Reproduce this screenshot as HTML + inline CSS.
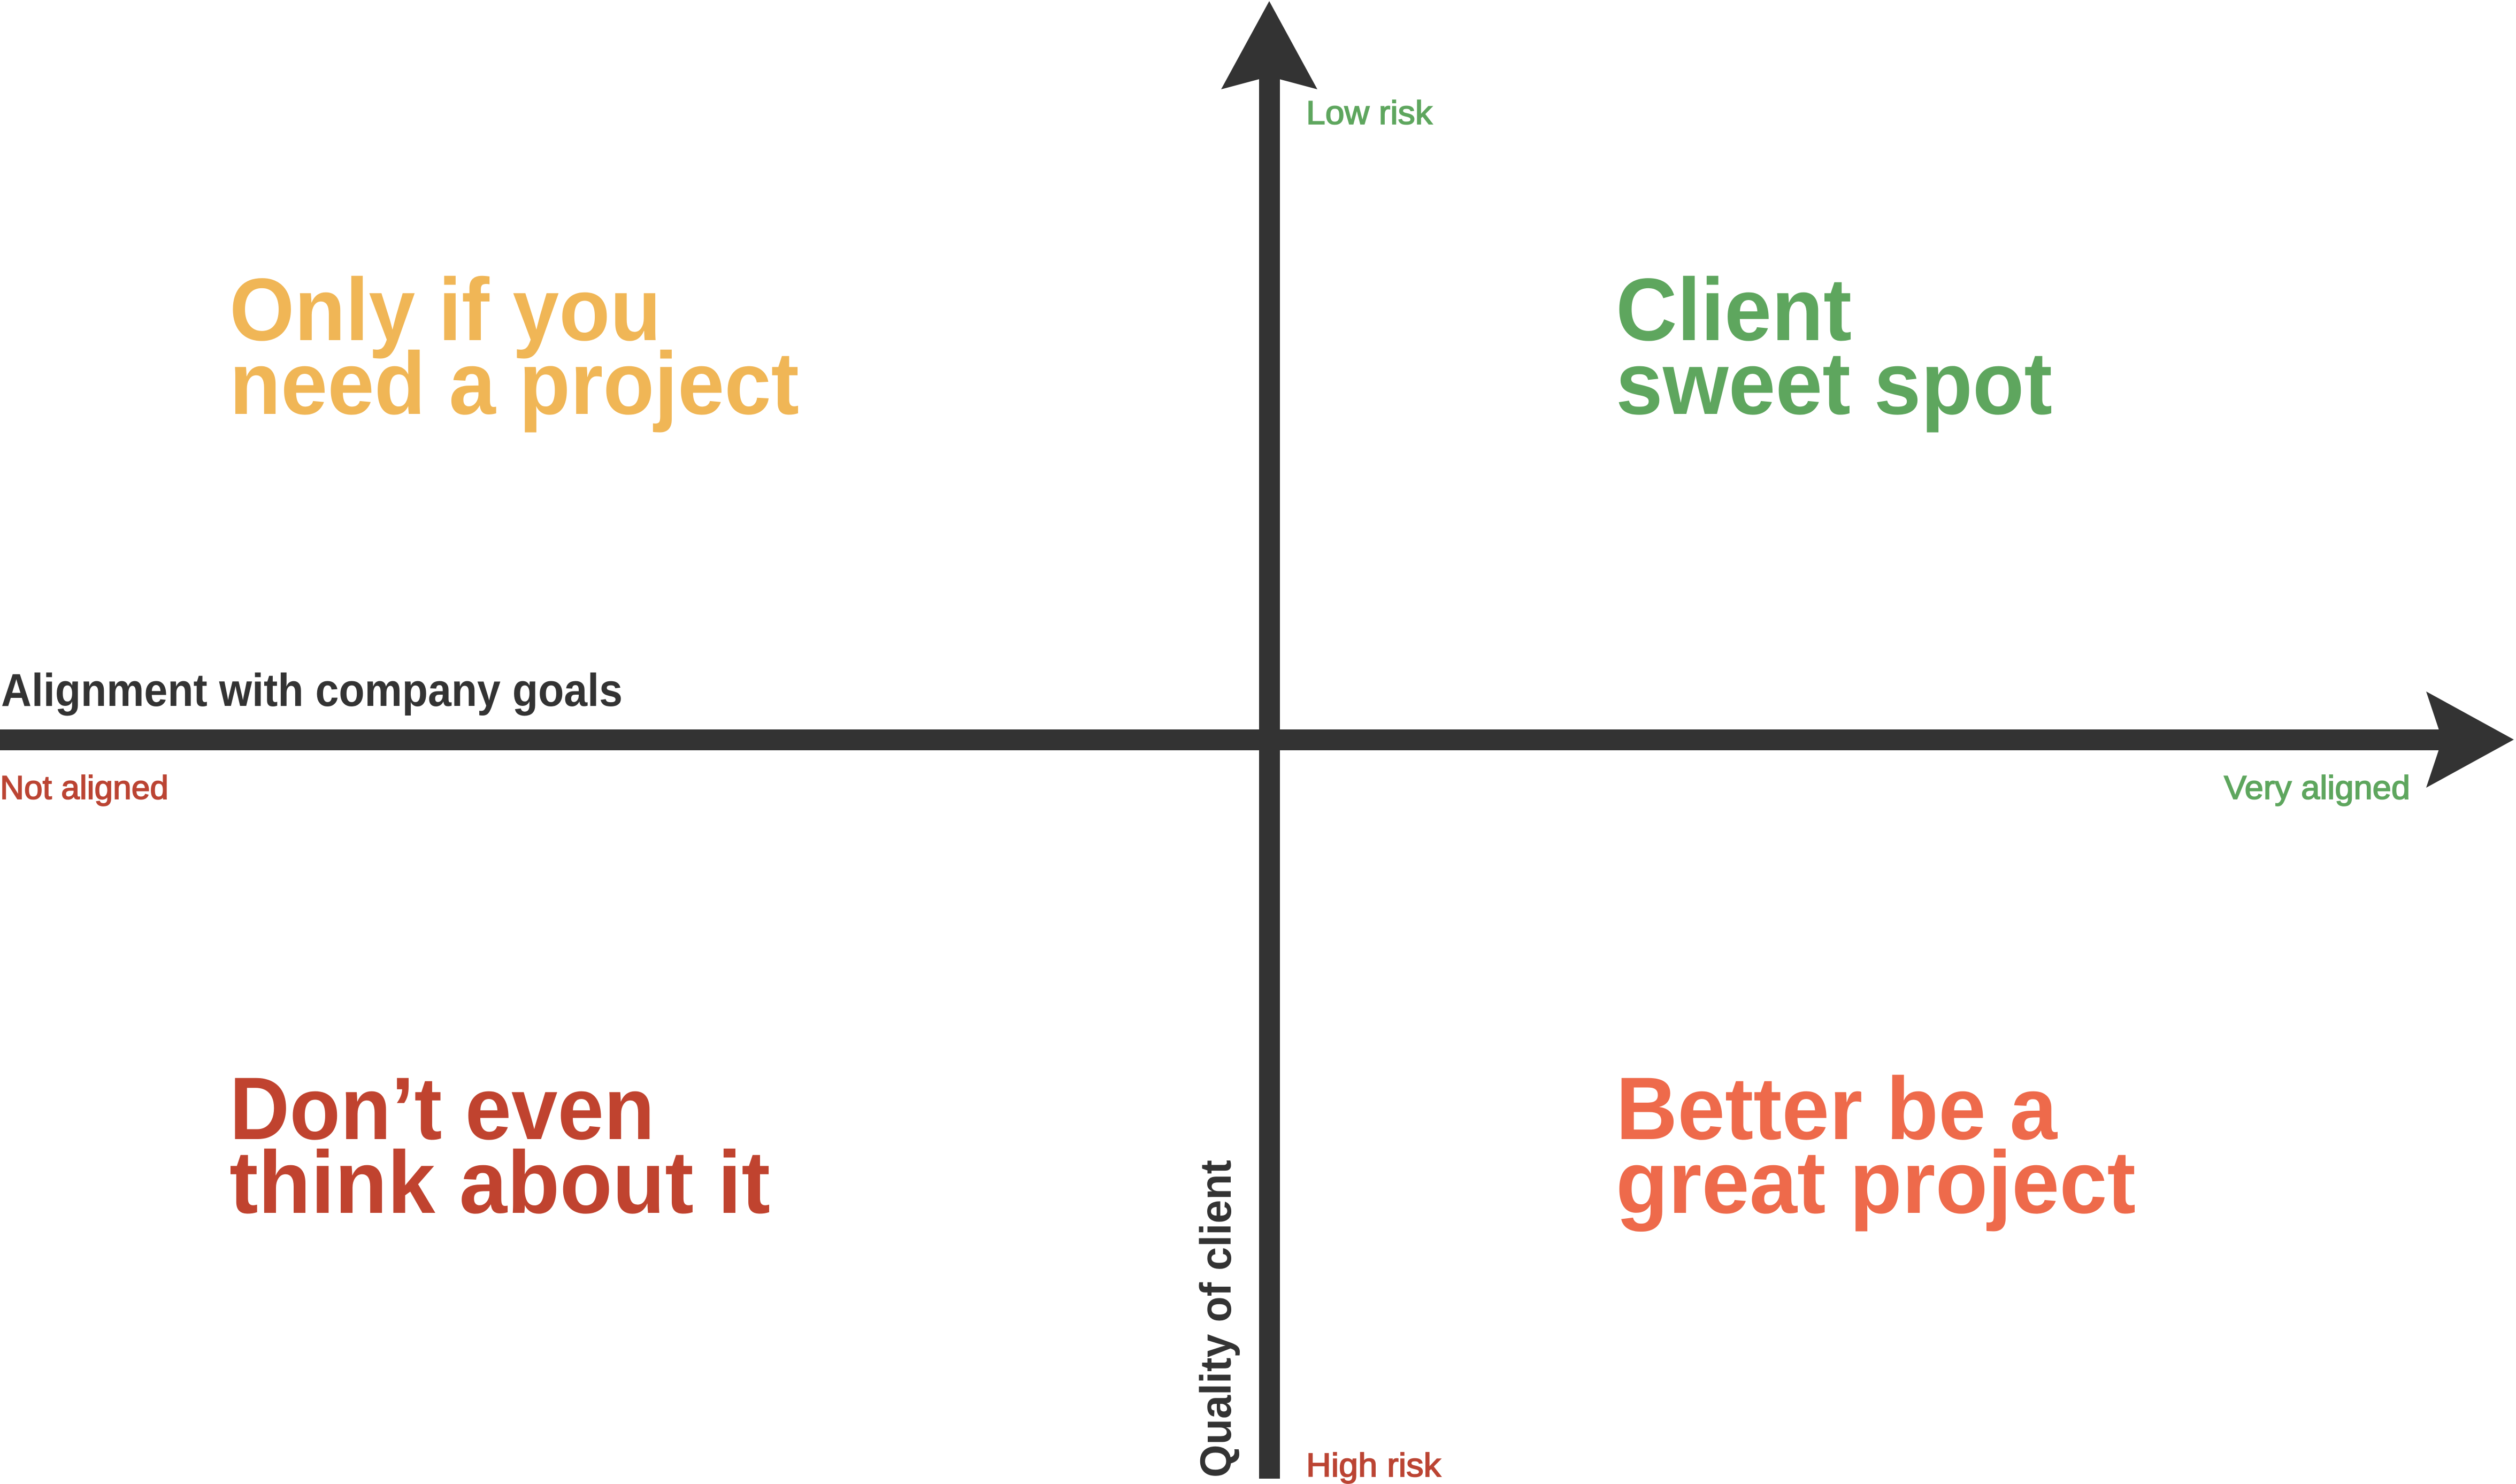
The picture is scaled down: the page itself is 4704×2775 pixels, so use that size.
<!DOCTYPE html>
<html><head><meta charset="utf-8"><style>
html,body{margin:0;padding:0;background:#fff;}
svg{display:block;}
text{font-family:"Liberation Sans",sans-serif;}
</style></head><body>
<svg width="4704" height="2775" viewBox="0 0 4704 2775" xmlns="http://www.w3.org/2000/svg">
<rect width="4704" height="2775" fill="#fff"/>
<!-- axes -->
<rect x="0" y="1364" width="4570" height="39" fill="#333"/>
<polygon points="4700,1383 4536,1293 4566,1383 4536,1473" fill="#333"/>
<rect x="2354" y="140" width="39" height="2625" fill="#333"/>
<polygon points="2373,2 2283,167 2373,143 2463,167" fill="#333"/>
<!-- axis labels -->
<g stroke-width="1.8">
<text x="2442" y="232" font-size="62" fill="#5ea65e" stroke="#5ea65e" textLength="236" lengthAdjust="spacingAndGlyphs">Low risk</text>
<text x="2442" y="2761" font-size="62" fill="#bb4433" stroke="#bb4433" textLength="252" lengthAdjust="spacingAndGlyphs">High risk</text>
<text x="0" y="1494" font-size="62" fill="#bb4433" stroke="#bb4433" textLength="315" lengthAdjust="spacingAndGlyphs">Not aligned</text>
<text x="4158" y="1494" font-size="62" fill="#5ea65e" stroke="#5ea65e" textLength="348" lengthAdjust="spacingAndGlyphs">Very aligned</text>
</g>
<text x="2" y="1320" font-size="86" font-weight="bold" fill="#333" textLength="1162" lengthAdjust="spacingAndGlyphs">Alignment with company goals</text>
<text transform="translate(2301,2763) rotate(-90)" font-size="82" font-weight="bold" fill="#333" textLength="594" lengthAdjust="spacingAndGlyphs">Quality of client</text>
<!-- quadrant labels -->
<g font-size="166" font-weight="bold">
<text x="429" y="636" fill="#f0b656" textLength="807" lengthAdjust="spacingAndGlyphs">Only if you</text>
<text x="429" y="774" fill="#f0b656" textLength="1065" lengthAdjust="spacingAndGlyphs">need a project</text>
<text x="3021" y="636" fill="#5ea65e" textLength="441" lengthAdjust="spacingAndGlyphs">Client</text>
<text x="3021" y="774" fill="#5ea65e" textLength="816" lengthAdjust="spacingAndGlyphs">sweet spot</text>
<text x="429" y="2130" fill="#c0432f" textLength="795" lengthAdjust="spacingAndGlyphs">Don’t even</text>
<text x="429" y="2268" fill="#c0432f" textLength="1011" lengthAdjust="spacingAndGlyphs">think about it</text>
<text x="3021" y="2130" fill="#ee6a4b" textLength="825" lengthAdjust="spacingAndGlyphs">Better be a</text>
<text x="3021" y="2268" fill="#ee6a4b" textLength="972" lengthAdjust="spacingAndGlyphs">great project</text>
</g>
</svg>
</body></html>
